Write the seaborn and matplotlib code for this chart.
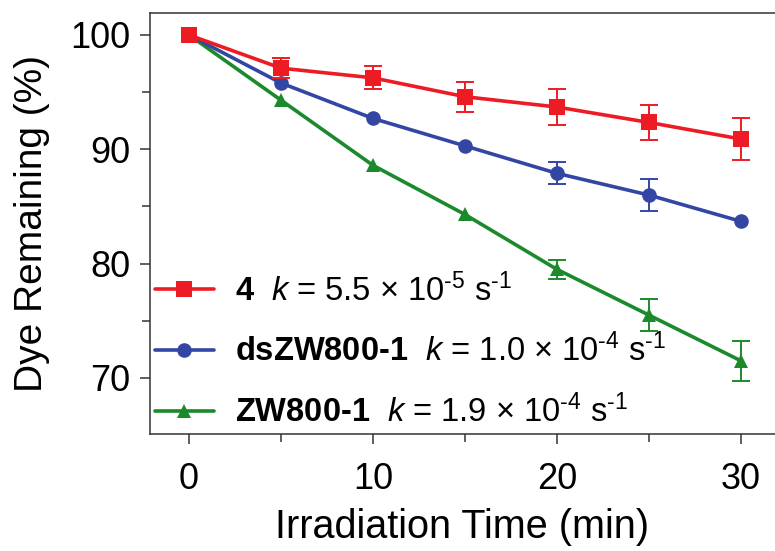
import matplotlib
matplotlib.use("Agg")
import matplotlib.pyplot as plt
import numpy as np
import seaborn as sns

# data
time_min = [0, 5, 10, 15, 20, 25, 30]

dye_4 = [100, 97.1, 96.25, 94.6, 93.7, 92.35, 90.9]
err_4 = [0, 0.9, 1.0, 1.3, 1.55, 1.55, 1.85]

dye_ds = [100, 95.8, 92.7, 90.3, 87.9, 86.0, 83.7]
err_ds = [0, 0, 0, 0, 0.95, 1.4, 0]

dye_zw = [100, 94.3, 88.6, 84.3, 79.5, 75.5, 71.5]
err_zw = [0, 0, 0, 0, 0.8, 1.4, 1.75]

labels = ["$\\mathbf{4}$  $k$ = 5.5 × 10$^{\u20105}$ s$^{\u20101}$",
          "$\\mathbf{dsZW800\u20101}$  $k$ = 1.0 × 10$^{\u20104}$ s$^{\u20101}$",
          "$\\mathbf{ZW800\u20101}$  $k$ = 1.9 × 10$^{\u20104}$ s$^{\u20101}$"]
colors = ["#ED1C24", "#3446A4", "#1C8A2C"]
markers = ["s", "o", "^"]
msizes = [11.5, 10.5, 10.5]

sns.set_style("ticks")
plt.rcParams["font.family"] = ["Liberation Sans", "DejaVu Sans"]
plt.rcParams["mathtext.fontset"] = "custom"
plt.rcParams["mathtext.rm"] = "Liberation Sans"
plt.rcParams["mathtext.it"] = "Liberation Sans:italic"
plt.rcParams["mathtext.bf"] = "Liberation Sans:bold"
plt.rcParams["text.color"] = "black"
plt.rcParams["axes.labelcolor"] = "black"
plt.rcParams["xtick.color"] = "black"
plt.rcParams["ytick.color"] = "black"

fig = plt.figure(figsize=(7.75, 5.51), dpi=100)
ax = fig.add_axes([150 / 775, 1 - 434 / 551, 625 / 775, (434 - 12.7) / 551])

series = [(dye_4, err_4), (dye_ds, err_ds), (dye_zw, err_zw)]
zorders = [5, 4, 3]
for (y, e), lab, c, m, ms, z in zip(series, labels, colors, markers, msizes, zorders):
    sns.lineplot(x=time_min, y=y, color=c, marker=m, markersize=ms,
                 markeredgewidth=0, linewidth=2.6, label=lab, ax=ax, zorder=z)
    t = np.array(time_min)
    yy = np.array(y)
    ee = np.array(e)
    keep = ee > 0
    ax.errorbar(t[keep], yy[keep], yerr=ee[keep], fmt="none", ecolor=c,
                elinewidth=1.4, capsize=6.5, capthick=1.4, zorder=z)

ax.set_xlim(-2.12, 31.85)
ax.set_ylim(65.1, 101.95)
ax.set_xticks([0, 10, 20, 30])
ax.set_xticks([5, 15, 25], minor=True)
ax.set_yticks([70, 80, 90, 100])
ax.set_yticks([75, 85, 95], minor=True)

for side in ["left", "bottom", "top"]:
    ax.spines[side].set_visible(True)
    ax.spines[side].set_linewidth(1.1)
    ax.spines[side].set_color("#333333")
ax.spines["right"].set_visible(False)

ax.tick_params(axis="both", which="major", direction="out", length=7,
               width=1.1, color="#333333", labelsize=26, pad=7)
ax.tick_params(axis="both", which="minor", direction="out", length=6,
               width=1.1, color="#333333")
ax.tick_params(axis="x", which="major", pad=13)

ax.set_xlabel("Irradiation Time (min)", fontsize=28.5, labelpad=8)
ax.set_ylabel("Dye Remaining (%)", fontsize=28, labelpad=15)

ax.legend(loc="lower left", bbox_to_anchor=(0.008, 0.012), frameon=False,
          fontsize=23.5, handlelength=1.8, handletextpad=0.65,
          labelspacing=0.8, borderaxespad=0, borderpad=0)

fig.savefig("out.png", dpi=100, facecolor="white")
